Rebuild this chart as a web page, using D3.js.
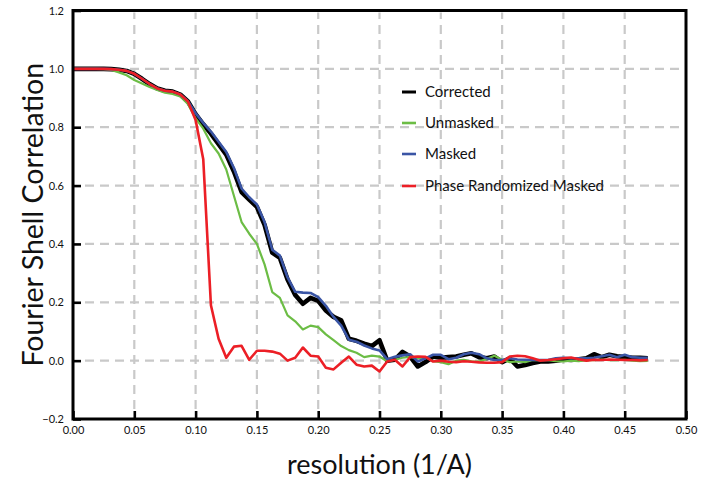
<!DOCTYPE html>
<html><head><meta charset="utf-8">
<script src="https://cdn.jsdelivr.net/npm/d3@7"></script>
<style>
html,body{margin:0;padding:0;background:#fff;}
svg text{font-family:Lato,"Open Sans",sans-serif;fill:#111;}
</style></head>
<body><svg id="chart" width="714" height="488"></svg>
<script>
// ---- data ----
const resolution = [0, 0.00625, 0.0125, 0.01875, 0.025, 0.03125, 0.0375, 0.04375, 0.05, 0.05625, 0.0625, 0.06875, 0.075, 0.08125, 0.0875, 0.09375, 0.1, 0.10625, 0.1125, 0.11875, 0.125, 0.13125, 0.1375, 0.14375, 0.15, 0.15625, 0.1625, 0.16875, 0.175, 0.18125, 0.1875, 0.19375, 0.2, 0.20625, 0.2125, 0.21875, 0.225, 0.23125, 0.2375, 0.24375, 0.25, 0.25625, 0.2625, 0.26875, 0.275, 0.28125, 0.2875, 0.29375, 0.3, 0.30625, 0.3125, 0.31875, 0.325, 0.33125, 0.3375, 0.34375, 0.35, 0.35625, 0.3625, 0.36875, 0.375, 0.38125, 0.3875, 0.39375, 0.4, 0.40625, 0.4125, 0.41875, 0.425, 0.43125, 0.4375, 0.44375, 0.45, 0.45625, 0.4625, 0.46875];

const corrected = [1.000, 1.000, 1.000, 1.000, 1.000, 0.999, 0.997, 0.993, 0.983, 0.966, 0.948, 0.933, 0.925, 0.922, 0.912, 0.888, 0.845, 0.810, 0.778, 0.742, 0.706, 0.648, 0.578, 0.552, 0.527, 0.465, 0.370, 0.352, 0.278, 0.225, 0.195, 0.215, 0.205, 0.172, 0.150, 0.138, 0.075, 0.068, 0.058, 0.050, 0.070, 0.000, 0.003, 0.030, 0.014, -0.020, -0.005, 0.014, 0.010, 0.012, 0.014, 0.020, 0.025, 0.012, 0.008, 0.014, -0.005, 0.008, -0.020, -0.015, -0.008, -0.003, -0.003, 0.000, 0.004, 0.002, 0.005, 0.008, 0.022, 0.012, 0.020, 0.015, 0.012, 0.010, 0.010, 0.008];

const unmasked = [1.000, 1.000, 1.000, 1.000, 0.999, 0.996, 0.988, 0.978, 0.962, 0.950, 0.938, 0.928, 0.918, 0.914, 0.905, 0.880, 0.830, 0.795, 0.745, 0.710, 0.655, 0.565, 0.475, 0.435, 0.400, 0.330, 0.235, 0.215, 0.155, 0.135, 0.107, 0.120, 0.115, 0.090, 0.070, 0.050, 0.036, 0.027, 0.012, 0.017, 0.014, -0.002, 0.003, 0.010, 0.013, 0.008, 0.012, -0.002, -0.005, -0.012, 0.000, 0.003, -0.002, -0.003, 0.006, 0.017, 0.003, -0.005, -0.003, -0.005, 0.002, 0.002, 0.002, -0.002, -0.003, 0.000, -0.002, 0.002, 0.002, 0.004, 0.002, 0.002, 0.003, 0.000, -0.002, -0.001];

const masked = [1.000, 1.000, 1.000, 1.000, 1.000, 0.999, 0.997, 0.993, 0.983, 0.966, 0.948, 0.933, 0.925, 0.922, 0.912, 0.889, 0.848, 0.815, 0.785, 0.750, 0.715, 0.660, 0.590, 0.560, 0.535, 0.475, 0.380, 0.360, 0.285, 0.236, 0.233, 0.232, 0.218, 0.188, 0.150, 0.120, 0.072, 0.065, 0.052, 0.042, 0.035, 0.005, 0.013, 0.018, 0.022, -0.003, 0.008, 0.020, 0.020, 0.005, 0.010, 0.022, 0.027, 0.022, 0.008, 0.002, 0.002, 0.008, 0.004, 0.003, 0.002, 0.002, 0.002, 0.008, 0.010, 0.008, 0.008, 0.008, 0.010, 0.015, 0.020, 0.012, 0.020, 0.012, 0.010, 0.010];

const phaseRandomized = [1.000, 1.000, 1.000, 1.000, 1.000, 0.999, 0.997, 0.993, 0.983, 0.966, 0.948, 0.933, 0.925, 0.922, 0.912, 0.888, 0.825, 0.690, 0.190, 0.075, 0.010, 0.048, 0.051, 0.003, 0.034, 0.034, 0.031, 0.024, 0.000, 0.010, 0.045, 0.017, 0.014, -0.024, -0.030, -0.007, 0.014, -0.014, -0.020, -0.017, -0.037, -0.003, 0.003, -0.020, 0.012, 0.014, 0.013, -0.003, 0.000, -0.004, -0.005, -0.002, -0.004, -0.006, -0.007, -0.007, -0.005, 0.014, 0.017, 0.015, 0.008, 0.000, 0.002, 0.005, 0.008, 0.011, 0.005, 0.000, 0.003, 0.002, 0.004, 0.003, 0.002, 0.002, 0.001, 0.002];

const seriesNames = ["Corrected", "Unmasked", "Masked", "Phase Randomized Masked"];
const xTicks = [0, 0.05, 0.10, 0.15, 0.20, 0.25, 0.30, 0.35, 0.40, 0.45, 0.50];
const yTicks = [-0.2, 0.0, 0.2, 0.4, 0.6, 0.8, 1.0, 1.2];
const xTitle = "resolution (1/A)";
const yTitle = "Fourier Shell Correlation";

// ---- layout ----
const svg = d3.select("#chart");
const L = 73, R = 686, T = 10.5, B = 419;
const x = d3.scaleLinear().domain([0, 0.5]).range([L, R]);
const y = d3.scaleLinear().domain([-0.2, 1.2]).range([B, T]);

// grid
const grid = svg.append("g").attr("stroke", "#c9c9c9").attr("stroke-width", 2.2).attr("stroke-dasharray", "9,6");
grid.selectAll("line.v").data(xTicks.filter(d => d > 0 && d < 0.5)).join("line")
  .attr("x1", d => x(d)).attr("x2", d => x(d)).attr("y1", B - 10).attr("y2", T + 2);
grid.selectAll("line.h").data(yTicks.filter(d => d > -0.2 && d < 1.2)).join("line")
  .attr("y1", d => y(d)).attr("y2", d => y(d)).attr("x1", L + 12).attr("x2", R - 2);

// axes
const xAxis = svg.append("g").attr("transform", `translate(0,${B})`)
  .call(d3.axisBottom(x).tickValues(xTicks).tickFormat(d3.format(".2f")).tickSizeInner(-8).tickSizeOuter(0).tickPadding(7));
const yAxis = svg.append("g").attr("transform", `translate(${L},0)`)
  .call(d3.axisLeft(y).tickValues(yTicks).tickFormat(d3.format(".1f")).tickSizeInner(-8).tickSizeOuter(0).tickPadding(9));
[xAxis, yAxis].forEach(a => {
  a.select(".domain").remove();
  a.selectAll(".tick line").attr("stroke", "#000").attr("stroke-width", 2.6);
  a.selectAll(".tick text").attr("font-size", 11).attr("fill", "#111").attr("font-family", "Lato, sans-serif");
});

// curves
const colors = ["#000000", "#6cbd45", "#3a55a5", "#ec1f26"];
const widths = [4.6, 2.2, 2.6, 2.6];
const seriesData = [corrected, unmasked, masked, phaseRandomized];
const line = d3.line().x((d, i) => x(resolution[i])).y(d => y(d));
seriesData.forEach((s, k) => {
  svg.append("path").datum(s).attr("d", line).attr("fill", "none")
    .attr("stroke", colors[k]).attr("stroke-width", widths[k])
    .attr("stroke-linejoin", "round").attr("stroke-linecap", "butt");
});

// frame
svg.append("rect").attr("x", L).attr("y", T).attr("width", R - L).attr("height", B - T)
  .attr("fill", "none").attr("stroke", "#000").attr("stroke-width", 3);

// legend
const leg = svg.append("g");
const legY = [92, 123, 154, 186];
seriesNames.forEach((n, k) => {
  leg.append("line").attr("x1", 402).attr("x2", 416).attr("y1", legY[k]).attr("y2", legY[k])
    .attr("stroke", colors[k]).attr("stroke-width", k === 0 ? 3 : 2.6);
  leg.append("text").attr("x", 425).attr("y", legY[k]).attr("dy", "0.35em")
    .attr("font-size", 15).text(n);
});

// titles
svg.append("text").attr("x", (L + R) / 2).attr("y", 474).attr("text-anchor", "middle")
  .attr("font-size", 27).text(xTitle);
svg.append("text").attr("transform", `translate(43,${(T + B) / 2}) rotate(-90)`).attr("text-anchor", "middle")
  .attr("font-size", 28.5).text(yTitle);
</script></body></html>
